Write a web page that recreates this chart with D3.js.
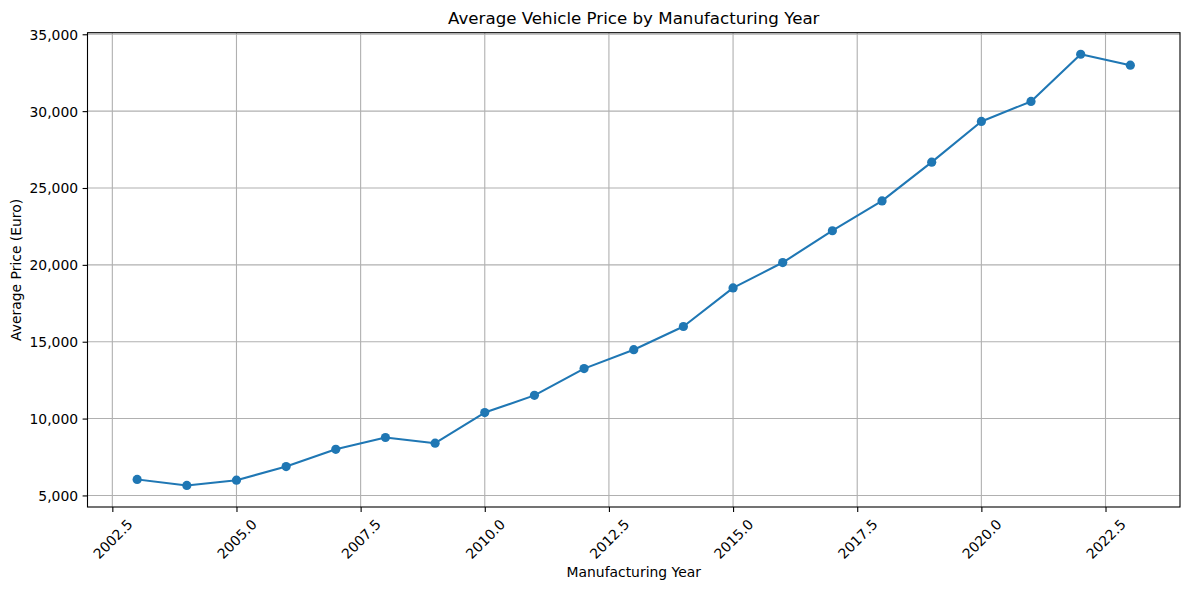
<!DOCTYPE html>
<html>
<head>
<meta charset="utf-8">
<script src="https://cdn.jsdelivr.net/npm/d3@7"></script>
<style>
  body { margin: 0; background: #fff; }
  svg text { font-family: "DejaVu Sans", sans-serif; fill: #000; }
</style>
</head>
<body>
<svg></svg>
<script>
// average price per manufacturing year
const years = [2003, 2004, 2005, 2006, 2007, 2008, 2009, 2010, 2011, 2012, 2013,
               2014, 2015, 2016, 2017, 2018, 2019, 2020, 2021, 2022, 2023];
const prices = [6040, 5650, 5990, 6880, 8000, 8770, 8400, 10390, 11510, 13250, 14480,
                15990, 18500, 20150, 22220, 24160, 26680, 29330, 30630, 33700, 32990];
const xTicks = [2002.5, 2005, 2007.5, 2010, 2012.5, 2015, 2017.5, 2020, 2022.5];
const yTicks = [5000, 10000, 15000, 20000, 25000, 30000, 35000];

const data = years.map((y, i) => ({ year: y, price: prices[i] }));

const svgWidth = 1190, svgHeight = 590;
const margin = { top: 32.7, right: 10, bottom: 83, left: 87.5 };
const width = svgWidth - margin.left - margin.right;
const height = svgHeight - margin.top - margin.bottom;

const svg = d3.select("svg")
    .attr("width", svgWidth)
    .attr("height", svgHeight);

const g = svg.append("g")
    .attr("transform", "translate(" + margin.left + "," + margin.top + ")");

// matplotlib-style 5% padding around the data
const xPad = (d3.max(years) - d3.min(years)) * 0.05;
const yPad = (d3.max(prices) - d3.min(prices)) * 0.05;
const x = d3.scaleLinear()
    .domain([d3.min(years) - xPad, d3.max(years) + xPad])
    .range([0, width]);
const y = d3.scaleLinear()
    .domain([d3.min(prices) - yPad, d3.max(prices) + yPad])
    .range([height, 0]);

// grid
g.append("g")
    .selectAll("line.vx")
    .data(xTicks)
    .join("line")
    .attr("x1", d => x(d)).attr("x2", d => x(d))
    .attr("y1", 0).attr("y2", height)
    .attr("stroke", "#b0b0b0").attr("stroke-width", 1.1);
g.append("g")
    .selectAll("line.hy")
    .data(yTicks)
    .join("line")
    .attr("y1", d => y(d)).attr("y2", d => y(d))
    .attr("x1", 0).attr("x2", width)
    .attr("stroke", "#b0b0b0").attr("stroke-width", 1.1);

// x axis
const xAxis = g.append("g")
    .attr("transform", "translate(0," + height + ")")
    .call(d3.axisBottom(x).tickValues(xTicks).tickSize(4.9).tickFormat(d3.format(".1f")));
xAxis.select(".domain").remove();
xAxis.selectAll("line").attr("stroke", "#000").attr("stroke-width", 1.1);
xAxis.selectAll("text")
    .attr("y", 0).attr("dy", null)
    .attr("text-anchor", "middle")
    .attr("dominant-baseline", "central")
    .style("font-size", "13.9px")
    .attr("transform", "translate(0,32) rotate(-45)");

// y axis
const yAxis = g.append("g")
    .call(d3.axisLeft(y).tickValues(yTicks).tickSize(4.9).tickPadding(4.5).tickFormat(d3.format(",")));
yAxis.select(".domain").remove();
yAxis.selectAll("line").attr("stroke", "#000").attr("stroke-width", 1.1);
yAxis.selectAll("text")
    .attr("dy", "0.35em")
    .style("font-size", "13.9px");

// frame
g.append("rect")
    .attr("width", width).attr("height", height)
    .attr("fill", "none").attr("stroke", "#000").attr("stroke-width", 1.1);

// line + markers
const line = d3.line()
    .x(d => x(d.year))
    .y(d => y(d.price));

g.append("path")
    .datum(data)
    .attr("fill", "none")
    .attr("stroke", "#1f77b4")
    .attr("stroke-width", 2.08)
    .attr("stroke-linejoin", "round")
    .attr("stroke-linecap", "square")
    .attr("d", line);

g.selectAll("circle")
    .data(data)
    .join("circle")
    .attr("cx", d => x(d.year))
    .attr("cy", d => y(d.price))
    .attr("r", 4.6)
    .attr("fill", "#1f77b4");

// labels
svg.append("text")
    .attr("x", margin.left + width / 2)
    .attr("y", 24)
    .attr("text-anchor", "middle")
    .style("font-size", "16.67px")
    .text("Average Vehicle Price by Manufacturing Year");

svg.append("text")
    .attr("x", margin.left + width / 2)
    .attr("y", 577)
    .attr("text-anchor", "middle")
    .style("font-size", "13.9px")
    .text("Manufacturing Year");

svg.append("text")
    .attr("transform", "translate(21," + (margin.top + height / 2) + ") rotate(-90)")
    .attr("text-anchor", "middle")
    .style("font-size", "13.9px")
    .text("Average Price (Euro)");
</script>
</body>
</html>
